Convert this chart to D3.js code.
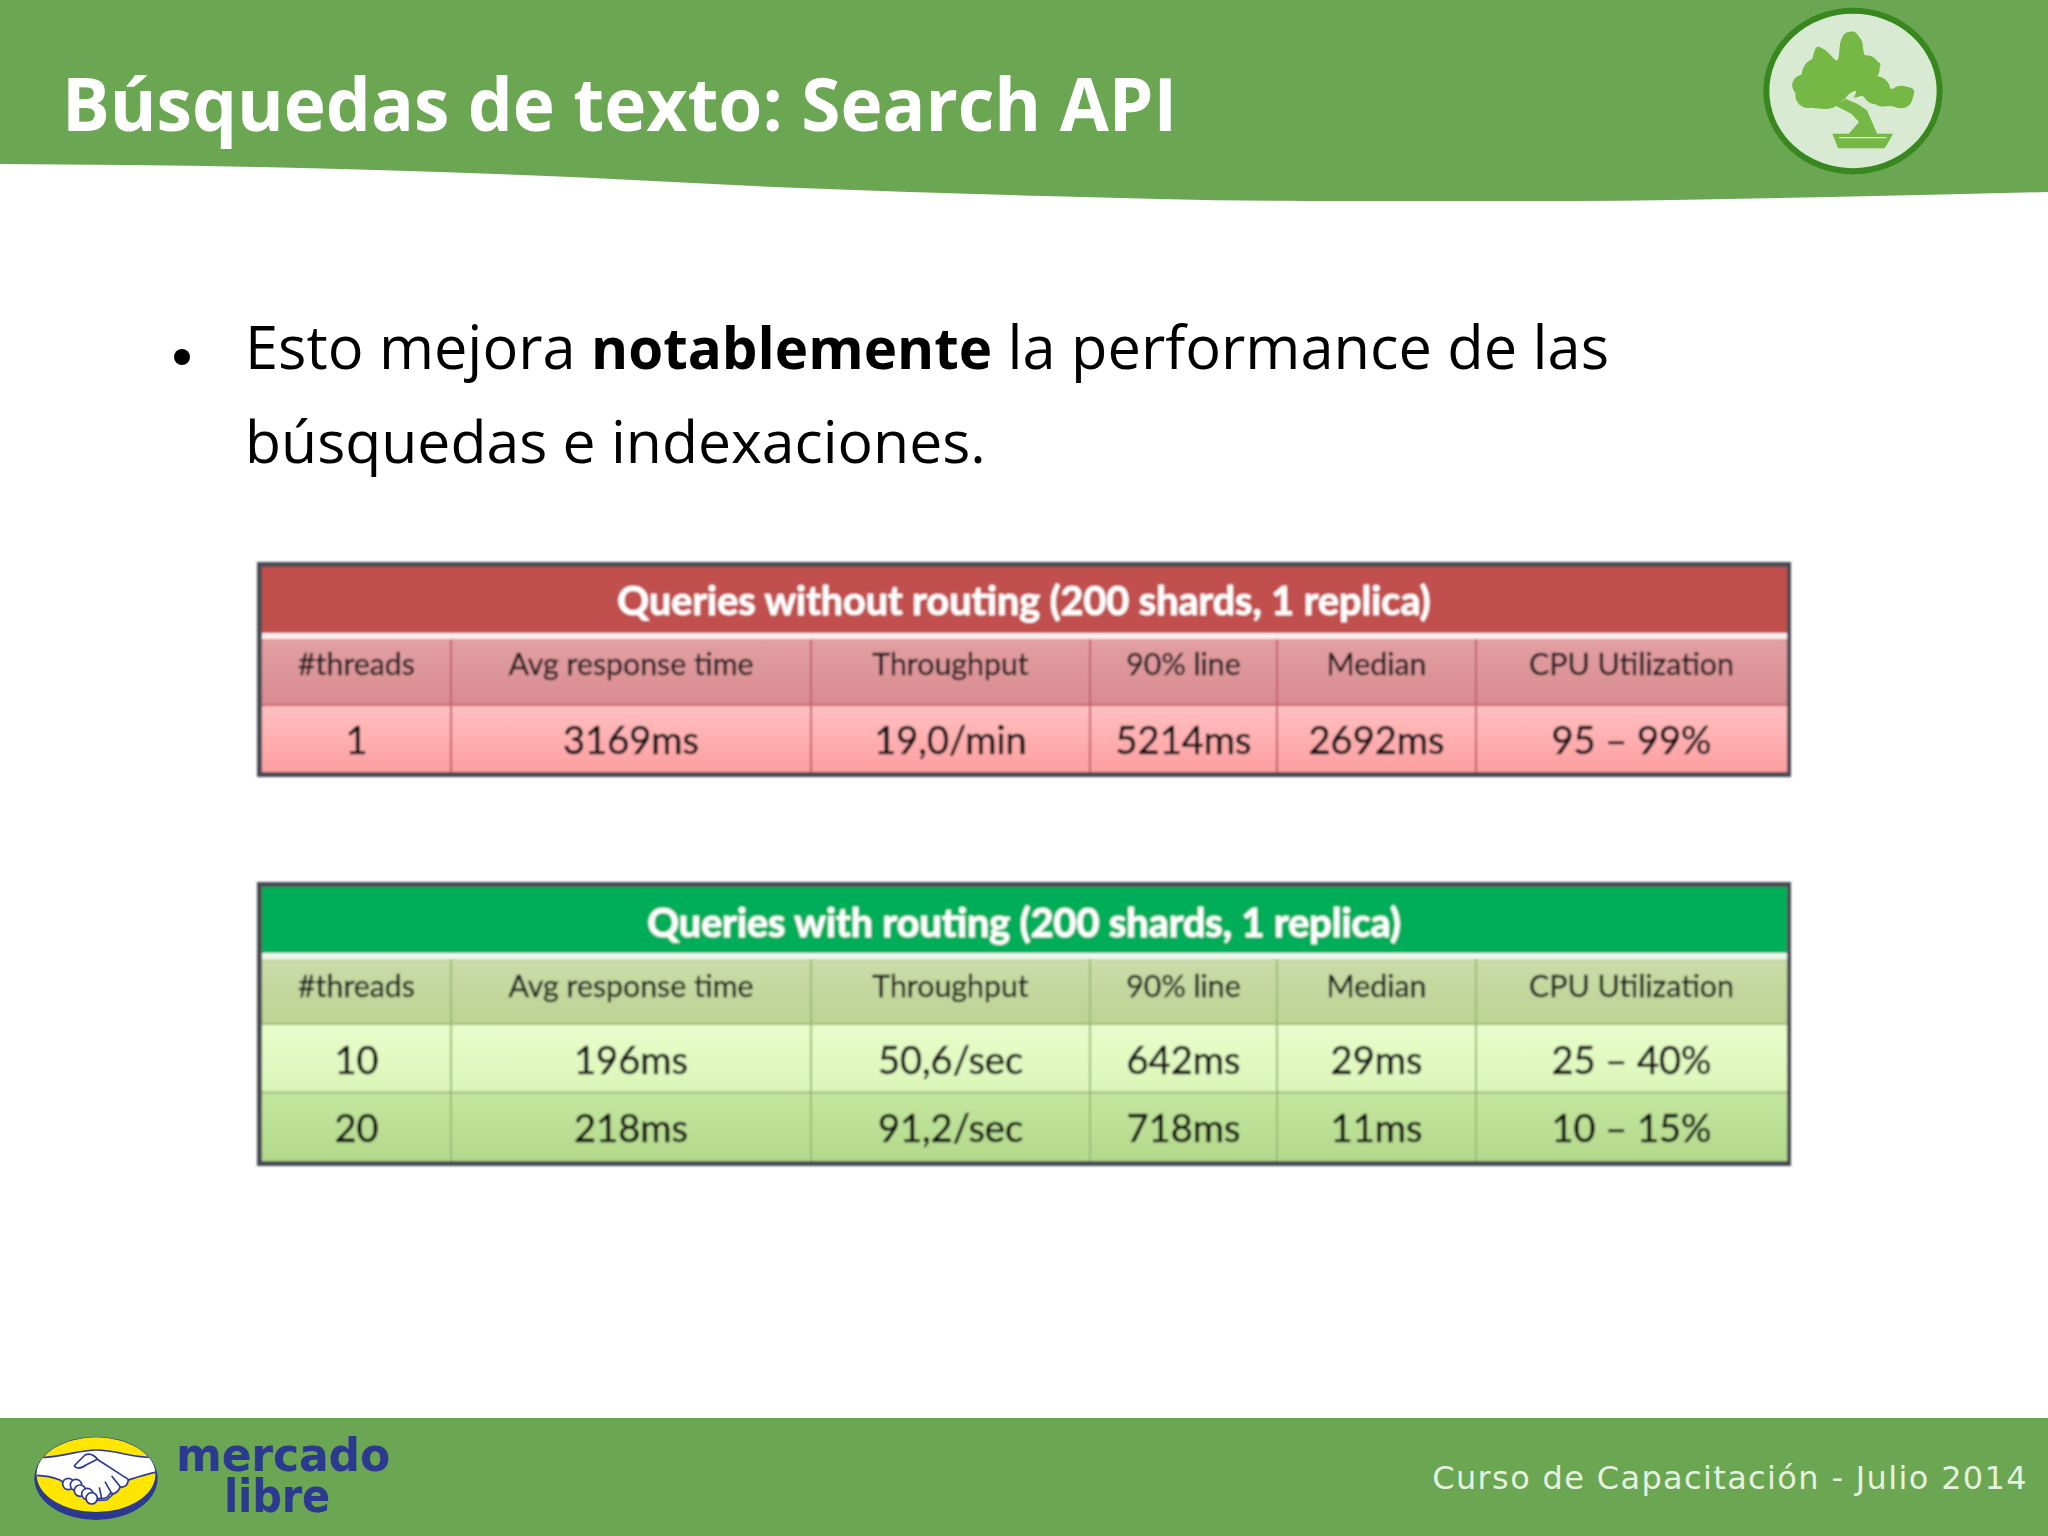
<!DOCTYPE html>
<html lang="es">
<head>
<meta charset="UTF-8">
<title>Búsquedas de texto: Search API</title>
<script src="https://d3js.org/d3.v7.min.js"></script>
<style>
  html, body { margin: 0; padding: 0; background: #fff; }
  svg { display: block; }
</style>
</head>
<body>
<svg id="slide" width="2048" height="1536"></svg>
<script>
// table content
const columns = ["#threads", "Avg response time", "Throughput", "90% line", "Median", "CPU Utilization"];
const titleWithout = "Queries without routing (200 shards, 1 replica)";
const titleWith = "Queries with routing (200 shards, 1 replica)";
const threadsWithout = ["1"];
const avgWithout = ["3169ms"];
const throughputWithout = ["19,0/min"];
const line90Without = ["5214ms"];
const medianWithout = ["2692ms"];
const cpuWithout = ["95 – 99%"];
const threadsWith = ["10", "20"];
const avgWith = ["196ms", "218ms"];
const throughputWith = ["50,6/sec", "91,2/sec"];
const line90With = ["642ms", "718ms"];
const medianWith = ["29ms", "11ms"];
const cpuWith = ["25 – 40%", "10 – 15%"];

const svg = d3.select("#slide");
const defs = svg.append("defs");

defs.append("filter").attr("id", "soft")
    .append("feGaussianBlur").attr("stdDeviation", 0.8);

function gradient(id, top, bottom) {
    const g = defs.append("linearGradient").attr("id", id)
        .attr("x1", 0).attr("y1", 0).attr("x2", 0).attr("y2", 1);
    g.append("stop").attr("offset", "0%").attr("stop-color", top);
    g.append("stop").attr("offset", "100%").attr("stop-color", bottom);
}
gradient("redRow", "#ffc0c0", "#fe9ea0");
gradient("redHead", "#e2a0a3", "#d98b90");
gradient("greenHead", "#cbdca9", "#bcd392");
gradient("greenRow1", "#e8fdcb", "#dbf6b8");
gradient("greenRow2", "#c4e79f", "#b3d98b");

const bannerGreen = "#6ba753";

// top banner with the wavy lower edge
const bannerEdge = [[0, 164], [260, 167], [522, 175], [800, 188], [1045, 196], [1306, 201], [1567, 201], [1828, 197], [2048, 192]];
const edge = d3.line().curve(d3.curveMonotoneX);
svg.append("path")
    .attr("d", "M0,0L2048,0L" + edge(bannerEdge.slice().reverse()).slice(1) + "Z")
    .attr("fill", bannerGreen);

svg.append("text")
    .attr("x", 62).attr("y", 131)
    .attr("font-family", "Open Sans").attr("font-weight", 700).attr("font-size", 74)
    .attr("textLength", 1115).attr("lengthAdjust", "spacingAndGlyphs")
    .attr("fill", "#fff")
    .text("Búsquedas de texto: Search API");

// bonsai badge, drawn in zoomed-crop units around its centre
const badge = svg.append("g").attr("transform", "translate(1853,91) scale(0.3333) translate(-400,-272)");
badge.append("ellipse").attr("cx", 400).attr("cy", 272).attr("rx", 260).attr("ry", 241)
    .attr("fill", "#d9ead3").attr("stroke", "#38871f").attr("stroke-width", 18);
const blob = d3.line().curve(d3.curveCatmullRomClosed.alpha(0.5));
const canopy = [[218, 255], [250, 218], [272, 192], [292, 140], [320, 152], [352, 180], [362, 130], [375, 100], [405, 95], [425, 125], [440, 172], [482, 190], [470, 225], [495, 245], [510, 268], [540, 258], [582, 268], [575, 300], [545, 322], [510, 316], [480, 318], [440, 292], [415, 285], [375, 295], [340, 322], [290, 324], [245, 310], [235, 280]];
const lumps = [[545, 290, 34], [505, 290, 28], [470, 270, 42], [440, 205, 40], [265, 285, 38], [310, 285, 36], [250, 255, 32], [400, 230, 62], [300, 225, 54], [395, 135, 34]];
const trunk = [[345, 315], [378, 295], [415, 312], [442, 330], [475, 406], [382, 406], [418, 365], [395, 340]];
const pot = [[338, 400], [520, 400], [505, 428], [495, 444], [355, 444], [346, 420]];
const treeGreen = "#76b845";
badge.append("path").attr("d", blob(canopy)).attr("fill", treeGreen);
badge.selectAll(null).data(lumps).join("circle")
    .attr("cx", d => d[0]).attr("cy", d => d[1]).attr("r", d => d[2]).attr("fill", treeGreen);
badge.append("path").attr("d", d3.line()(trunk) + "Z").attr("fill", treeGreen);
badge.append("path").attr("d", d3.line()(pot) + "Z").attr("fill", treeGreen);
badge.append("path").attr("d", "M378,292Q395,270 410,272Q405,295 392,300Z").attr("fill", "#d9ead3");
badge.append("line").attr("x1", 358).attr("x2", 500).attr("y1", 412).attr("y2", 412)
    .attr("stroke", "#d9ead3").attr("stroke-width", 4);

// bullet text
const bodyFont = "Open Sans";
svg.append("circle").attr("cx", 182).attr("cy", 357).attr("r", 8).attr("fill", "#000");
const firstLine = svg.append("text")
    .attr("x", 245).attr("y", 369)
    .attr("font-family", bodyFont).attr("font-size", 59.5).attr("fill", "#000");
firstLine.append("tspan").text("Esto mejora ");
firstLine.append("tspan").attr("font-weight", 700).attr("font-size", 56.5).text("notablemente");
firstLine.append("tspan").text(" la performance de las");
svg.append("text")
    .attr("x", 245).attr("y", 463)
    .attr("font-family", bodyFont).attr("font-size", 58.9).attr("fill", "#000")
    .text("búsquedas e indexaciones.");

// tables
const colEdges = [262, 451, 811, 1090, 1277, 1476, 1787];
const columnEdge = d3.scaleOrdinal().domain(columns).range(colEdges);
const nextEdge = d3.scaleOrdinal().domain(columns).range(colEdges.slice(1));

function drawTable(cfg) {
    const g = svg.append("g").attr("filter", "url(#soft)");
    const right = colEdges[colEdges.length - 1];
    const left = colEdges[0];

    g.append("rect")
        .attr("x", 257).attr("y", cfg.top).attr("width", 1534).attr("height", cfg.bottom - cfg.top)
        .attr("fill", "#474c52");
    g.append("rect")
        .attr("x", left).attr("y", cfg.top + 5).attr("width", right - left).attr("height", cfg.titleBottom - cfg.top - 5)
        .attr("fill", cfg.titleFill);
    g.append("rect")
        .attr("x", left).attr("y", cfg.titleBottom).attr("width", right - left).attr("height", 6)
        .attr("fill", cfg.ruleFill);
    g.append("text")
        .attr("x", 1024).attr("y", cfg.titleBase)
        .attr("text-anchor", "middle")
        .attr("font-family", "Lato").attr("font-weight", 700).attr("font-size", cfg.titleSize)
        .attr("fill", "#fff")
        .attr("stroke", "#fff").attr("stroke-width", 0.6)
        .text(cfg.title);

    // header row
    const headTop = cfg.titleBottom + 6;
    g.selectAll(null).data(columns).join("rect")
        .attr("x", d => columnEdge(d)).attr("y", headTop)
        .attr("width", d => nextEdge(d) - columnEdge(d))
        .attr("height", cfg.headBottom - headTop)
        .attr("fill", `url(#${cfg.headFill})`);
    g.selectAll(null).data(columns).join("text")
        .attr("x", d => (columnEdge(d) + nextEdge(d)) / 2).attr("y", cfg.headBase)
        .attr("text-anchor", "middle")
        .attr("font-family", "Lato").attr("font-size", 30.3).attr("fill", "#1a1a1a")
        .attr("stroke", "#1a1a1a").attr("stroke-width", 0.4)
        .text(d => d);

    // body rows
    const rowBand = d3.scaleBand().domain(d3.range(cfg.rows.length))
        .range([cfg.headBottom, cfg.bottom - 5]);
    cfg.rows.forEach((row, r) => {
        const cells = columns.map((c, i) => ({ col: c, value: row[i] }));
        g.selectAll(null).data(cells).join("rect")
            .attr("x", d => columnEdge(d.col)).attr("y", rowBand(r))
            .attr("width", d => nextEdge(d.col) - columnEdge(d.col))
            .attr("height", rowBand.bandwidth())
            .attr("fill", `url(#${cfg.rowFills[r]})`);
        g.selectAll(null).data(cells).join("text")
            .attr("x", d => (columnEdge(d.col) + nextEdge(d.col)) / 2)
            .attr("y", rowBand(r) + rowBand.bandwidth() - cfg.rowBaseOffset)
            .attr("text-anchor", "middle")
            .attr("font-family", "Lato").attr("font-size", 38).attr("fill", "#111")
            .attr("stroke", "#111").attr("stroke-width", 0.6)
            .text(d => d.value);
    });

    // grid lines
    g.selectAll(null).data(columns.slice(1)).join("line")
        .attr("x1", d => columnEdge(d)).attr("x2", d => columnEdge(d))
        .attr("y1", headTop).attr("y2", cfg.bottom - 5)
        .attr("stroke", cfg.gridStroke).attr("stroke-width", 2);
    [cfg.headBottom].concat(d3.range(1, cfg.rows.length).map(r => rowBand(r))).forEach(y => {
        g.append("line")
            .attr("x1", left).attr("x2", right).attr("y1", y).attr("y2", y)
            .attr("stroke", cfg.gridStroke).attr("stroke-width", 2);
    });
}

drawTable({
    title: titleWithout, titleFill: "#c0504d", ruleFill: "#fdeeee", titleSize: 39.5,
    top: 562, titleBottom: 633, headBottom: 705, bottom: 777,
    titleBase: 615, headBase: 675, rowBaseOffset: 18,
    headFill: "redHead", rowFills: ["redRow"], gridStroke: "#c4606a",
    rows: d3.zip(threadsWithout, avgWithout, throughputWithout, line90Without, medianWithout, cpuWithout)
});
drawTable({
    title: titleWith, titleFill: "#00ae5a", ruleFill: "#eef8ee", titleSize: 39.5,
    top: 882, titleBottom: 953, headBottom: 1024, bottom: 1166,
    titleBase: 937, headBase: 997, rowBaseOffset: 19,
    headFill: "greenHead", rowFills: ["greenRow1", "greenRow2"], gridStroke: "#9cbc78",
    rows: d3.zip(threadsWith, avgWith, throughputWith, line90With, medianWith, cpuWith)
});

// footer
svg.append("rect").attr("x", 0).attr("y", 1418).attr("width", 2048).attr("height", 118).attr("fill", bannerGreen);
svg.append("text")
    .attr("x", 2028).attr("y", 1489).attr("text-anchor", "end")
    .attr("font-family", "DejaVu Sans").attr("font-size", 32).attr("fill", "#e6f0df")
    .attr("letter-spacing", 1.35)
    .text("Curso de Capacitación - Julio 2014");

// handshake logo, drawn in zoomed-crop units
const logoBlue = "#2b3990";
const logo = svg.append("g").attr("transform", "translate(0,1400) scale(0.3333)");
logo.append("ellipse").attr("cx", 288).attr("cy", 235).attr("rx", 185).attr("ry", 125).attr("fill", logoBlue);
logo.append("clipPath").attr("id", "oval")
    .append("ellipse").attr("cx", 288).attr("cy", 224).attr("rx", 178).attr("ry", 112);
logo.append("ellipse").attr("cx", 288).attr("cy", 224).attr("rx", 178).attr("ry", 112).attr("fill", "#ffe600");
logo.append("path")
    .attr("clip-path", "url(#oval)")
    .attr("d", "M100,172C170,178 230,150 290,150C350,150 410,178 475,172L475,215C440,222 410,232 385,240L320,300L270,302L180,240C160,232 130,226 100,226Z")
    .attr("fill", "#fff").attr("stroke", logoBlue).attr("stroke-width", 5);
logo.append("path")
    .attr("d", "M222,198L255,165Q275,155 295,180L385,238Q385,262 360,262Q350,285 330,280Q320,300 300,295Q285,302 270,295L225,270L190,240")
    .attr("fill", "#fff").attr("stroke", logoBlue).attr("stroke-width", 5).attr("stroke-linejoin", "round");
logo.append("path")
    .attr("d", "M222,198Q235,212 258,195L292,178M335,228L362,262M315,245L335,280M298,262L305,295")
    .attr("fill", "none").attr("stroke", logoBlue).attr("stroke-width", 5);
logo.selectAll(null).data([[205, 252], [228, 255], [240, 272], [262, 282], [275, 295]]).join("circle")
    .attr("cx", d => d[0]).attr("cy", d => d[1]).attr("r", 17)
    .attr("fill", "#fff").attr("stroke", logoBlue).attr("stroke-width", 5);

svg.append("text")
    .attr("x", 176).attr("y", 1471)
    .attr("font-family", "DejaVu Sans").attr("font-weight", 700).attr("font-size", 47)
    .attr("textLength", 214).attr("lengthAdjust", "spacingAndGlyphs")
    .attr("fill", logoBlue)
    .text("mercado");
svg.append("text")
    .attr("x", 224).attr("y", 1512)
    .attr("font-family", "DejaVu Sans").attr("font-weight", 700).attr("font-size", 47)
    .attr("textLength", 106).attr("lengthAdjust", "spacingAndGlyphs")
    .attr("fill", logoBlue)
    .text("libre");
</script>
</body>
</html>
